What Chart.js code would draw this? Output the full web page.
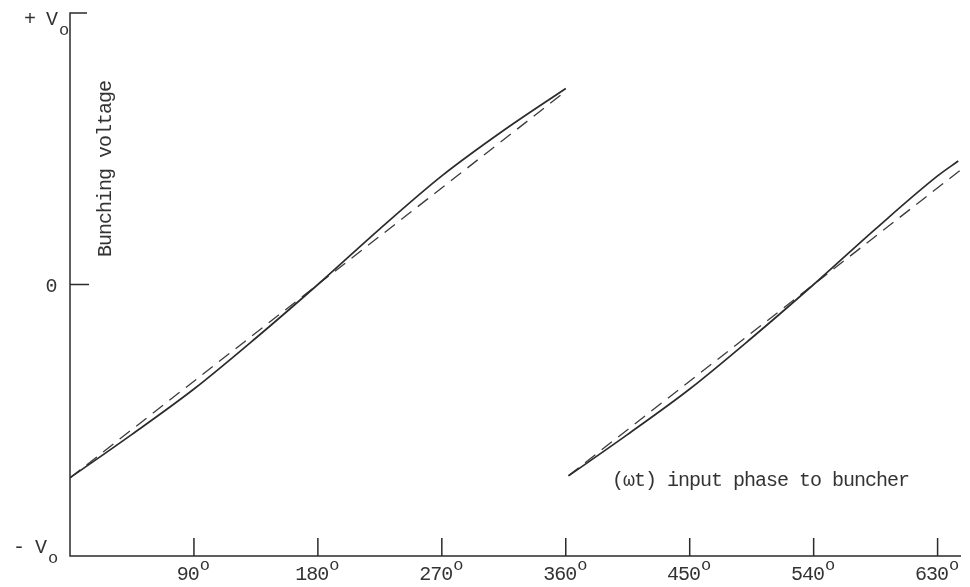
<!DOCTYPE html>
<html>
<head>
<meta charset="utf-8">
<script src="https://cdn.jsdelivr.net/npm/chart.js@4"></script>
<style>
  body { margin: 0; background: #fff; }
  canvas { display: block; }
</style>
</head>
<body>
<canvas id="bunching-chart" width="970" height="587"></canvas>
<script>
// phase in degrees, voltage as fraction of V0
const phase1 = [0, 45, 90, 135, 180, 225, 270, 315, 360];
const solid1 = [-0.712, -0.552, -0.385, -0.197, 0, 0.205, 0.4, 0.568, 0.722];
const dashPhase1 = [0, 360];
const dashed1 = [-0.712, 0.712];

const phase2 = [362, 405, 450, 495, 540, 585, 630, 645];
const solid2 = [-0.705, -0.552, -0.385, -0.197, 0, 0.205, 0.4, 0.455];
const dashPhase2 = [362, 651];
const dashed2 = [-0.704, 0.439];

const xTicks = [90, 180, 270, 360, 450, 540, 630];
const yTicks = [-1, 0, 1];
const yTickLabels = ['- V', '0', '+ V'];
const yTickSubs = ['o', '', 'o'];
const xMax = 647;

const font = '"Liberation Mono", "DejaVu Sans Mono", monospace';
const ink = '#2b2b2b';
const textInk = '#333';

const toPoints = (xs, ys) => xs.map((x, i) => ({ x: x, y: ys[i] }));

let lineSet = (xs, ys, dashed) => ({
  data: toPoints(xs, ys),
  borderColor: dashed ? '#3c3c3c' : ink,
  borderWidth: dashed ? 1.3 : 1.7,
  borderDash: dashed ? [13, 8] : [],
  pointRadius: 0,
  fill: false,
  cubicInterpolationMode: 'monotone'
});

let setFont = (ctx, size) => {
  ctx.font = size + 'px ' + font;
  ctx.letterSpacing = size >= 20 ? '-1px' : '0px';
};

// axes drawn by hand so the ticks point inward like the original
const handAxes = {
  id: 'handAxes',
  afterDraw(chart) {
    const { ctx, chartArea: a, scales: { x, y } } = chart;
    ctx.save();
    ctx.strokeStyle = ink;
    ctx.fillStyle = textInk;
    ctx.lineWidth = 1.5;

    const yTop = y.getPixelForValue(1);
    const yBot = y.getPixelForValue(-1);
    const yZero = y.getPixelForValue(0);
    ctx.beginPath();
    ctx.moveTo(a.left + 17, yTop);
    ctx.lineTo(a.left, yTop);
    ctx.lineTo(a.left, yBot);
    ctx.lineTo(x.getPixelForValue(xMax), yBot);
    ctx.moveTo(a.left, yZero);
    ctx.lineTo(a.left + 19, yZero);
    xTicks.forEach(t => {
      const px = x.getPixelForValue(t);
      ctx.moveTo(px, yBot);
      ctx.lineTo(px, yBot - 18);
    });
    ctx.stroke();

    // x tick labels with raised degree "o"
    xTicks.forEach(t => {
      const px = x.getPixelForValue(t);
      setFont(ctx, 20);
      const w1 = ctx.measureText(String(t)).width;
      setFont(ctx, 17);
      const w2 = ctx.measureText('o').width;
      const left = px - 1 - (w1 + w2) / 2;
      ctx.textAlign = 'left';
      ctx.textBaseline = 'alphabetic';
      setFont(ctx, 20);
      ctx.fillText(String(t), left, yBot + 24);
      setFont(ctx, 17);
      ctx.fillText('o', left + w1 + 1, yBot + 14);
    });

    // y tick labels
    yTicks.forEach((v, i) => {
      const py = y.getPixelForValue(v);
      setFont(ctx, 20);
      ctx.textBaseline = 'alphabetic';
      if (v === 0) {
        ctx.textAlign = 'center';
        ctx.fillText(yTickLabels[i], 51, py + 7);
        return;
      }
      const right = v > 0 ? 57 : 46;
      const base = v > 0 ? py + 12 : py - 3;
      ctx.textAlign = 'right';
      ctx.fillText(yTickLabels[i], right, base);
      setFont(ctx, 17);
      ctx.textAlign = 'left';
      ctx.fillText(yTickSubs[i], right + 2, base + 10);
    });

    // axis titles
    setFont(ctx, 20);
    ctx.textAlign = 'center';
    ctx.textBaseline = 'alphabetic';
    ctx.save();
    ctx.translate(111, 169);
    ctx.rotate(-Math.PI / 2);
    ctx.fillText('Bunching voltage', 0, 0);
    ctx.restore();

    ctx.textAlign = 'left';
    ctx.textBaseline = 'middle';
    ctx.fillText('(\u03c9t) input phase to buncher', 612, 481);
    ctx.restore();
  }
};

const bunchingChart = new Chart(document.querySelector('#bunching-chart').getContext('2d'), {
  type: 'line',
  data: {
    datasets: [
      lineSet(phase1, solid1, false),
      lineSet(dashPhase1, dashed1, true),
      lineSet(phase2, solid2, false),
      lineSet(dashPhase2, dashed2, true)
    ]
  },
  options: {
    responsive: false,
    animation: false,
    devicePixelRatio: 1,
    layout: { padding: { left: 70, right: 9, top: 13, bottom: 31 } },
    plugins: { legend: { display: false }, tooltip: { enabled: false } },
    scales: {
      x: { type: 'linear', min: 0, max: xMax, display: false },
      y: { type: 'linear', min: -1, max: 1, display: false }
    }
  },
  plugins: [handAxes]
});
</script>
</body>
</html>
